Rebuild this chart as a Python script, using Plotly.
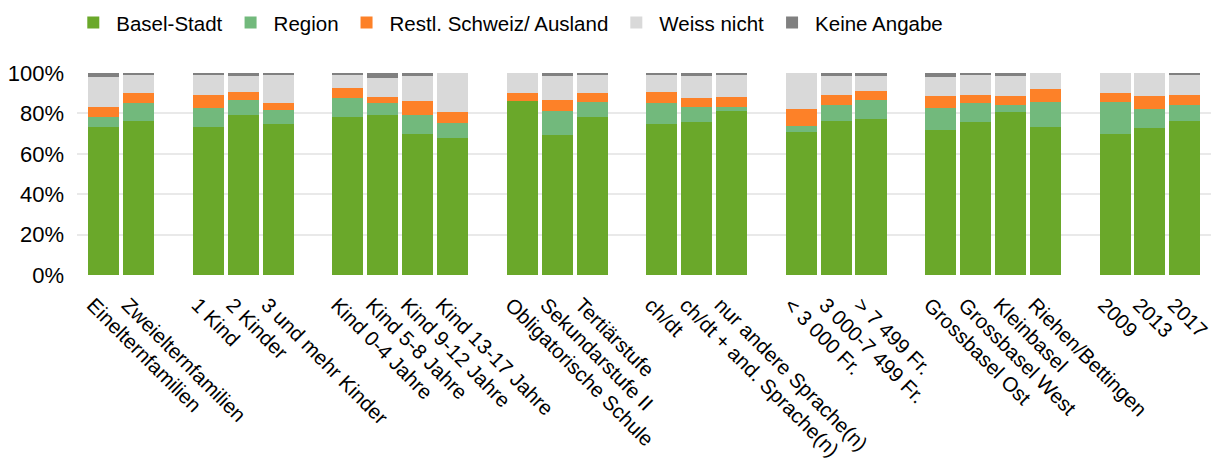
import plotly.graph_objects as go

# categories, grouped (an empty slot is left between groups)
groups = [
    ["Einelternfamilien", "Zweielternfamilien"],
    ["1 Kind", "2 Kinder", "3 und mehr Kinder"],
    ["Kind 0-4 Jahre", "Kind 5-8 Jahre", "Kind 9-12 Jahre", "Kind 13-17 Jahre"],
    ["Obligatorische Schule", "Sekundarstufe II", "Tertiärstufe"],
    ["ch/dt", "ch/dt + and. Sprache(n)", "nur andere Sprache(n)"],
    ["< 3 000 Fr.", "3 000-7 499 Fr.", "> 7 499 Fr."],
    ["Grossbasel Ost", "Grossbasel West", "Kleinbasel", "Riehen/Bettingen"],
    ["2009", "2013", "2017"],
]

# shares in percent
basel = [73.1, 76.4, 73.1, 79.0, 75.0, 78.3, 79.3, 69.8, 67.9, 86.0, 69.4, 78.2, 75.0,
         75.7, 81.0, 70.6, 76.0, 77.2, 71.9, 75.7, 80.5, 73.1, 69.9, 72.6, 76.0]
region = [5.2, 8.9, 9.5, 7.8, 6.7, 9.5, 5.8, 9.4, 7.3, 0.0, 11.6, 7.6, 10.3,
          7.3, 2.3, 3.1, 8.3, 9.4, 10.6, 9.3, 3.6, 12.4, 15.6, 9.5, 8.1]
restl = [5.0, 4.8, 6.5, 3.8, 3.6, 4.9, 3.0, 6.8, 5.5, 3.9, 5.8, 4.3, 5.4,
         4.8, 4.6, 8.3, 5.0, 4.3, 5.9, 4.1, 4.3, 6.4, 4.7, 6.3, 5.0]
weiss = [14.7, 8.7, 9.7, 8.1, 13.7, 6.5, 9.4, 12.3, 19.3, 10.1, 11.5, 8.7, 8.3,
         10.5, 10.9, 18.0, 9.4, 7.8, 9.6, 10.1, 10.1, 8.1, 9.8, 11.6, 9.7]
keine = [2.0, 1.2, 1.2, 1.3, 1.0, 0.8, 2.5, 1.7, 0.0, 0.0, 1.7, 1.2, 1.0,
         1.7, 1.2, 0.0, 1.3, 1.3, 2.0, 0.8, 1.5, 0.0, 0.0, 0.0, 1.2]

series = [
    ("Basel-Stadt", basel, "#6aa82a"),
    ("Region", region, "#72b97c"),
    ("Restl. Schweiz/ Ausland", restl, "#fd8128"),
    ("Weiss nicht", weiss, "#d9d9d9"),
    ("Keine Angabe", keine, "#808080"),
]

FONT = "Liberation Sans, Arial, sans-serif"

# slot positions: categories in order, one empty slot after each group
pos, labels = [], []
slot = 0
for g in groups:
    for name in g:
        pos.append(slot)
        labels.append(name)
        slot += 1
    slot += 1

fig = go.Figure()
for name, vals, color in series:
    fig.add_trace(go.Bar(x=pos, y=[v / 100 for v in vals], name=name,
                         marker=dict(color=color, line=dict(width=0))))

fig.update_layout(
    barmode="stack", bargap=0.11,
    width=1212, height=465,
    margin=dict(l=77, r=1, t=73, b=190, autoexpand=False),
    plot_bgcolor="white", paper_bgcolor="white",
    font=dict(family=FONT, color="black", size=20),
    legend=dict(orientation="h", xref="container", yref="container",
                x=0.058, y=0.994, xanchor="left", yanchor="top",
                itemwidth=36, font=dict(size=20.5), traceorder="normal"),
)
fig.update_xaxes(range=[-0.77, 31.75], tickmode="array", tickvals=pos, ticktext=labels,
                 tickangle=45, showgrid=False, zeroline=False, showline=False,
                 tickfont=dict(size=20.5), ticklabeloverflow="allow",
                 ticklabelshift=-11, ticklabelstandoff=13, automargin=False)
fig.update_yaxes(range=[0, 1], dtick=0.2, tickformat=".0%", showgrid=True,
                 gridcolor="#e9e9e9", gridwidth=2, zeroline=False, showline=False,
                 tickfont=dict(size=22), ticklabelstandoff=12, automargin=False)

fig.write_html("out.html", config={"displayModeBar": False},
               post_script="document.body.style.margin='0px';")
